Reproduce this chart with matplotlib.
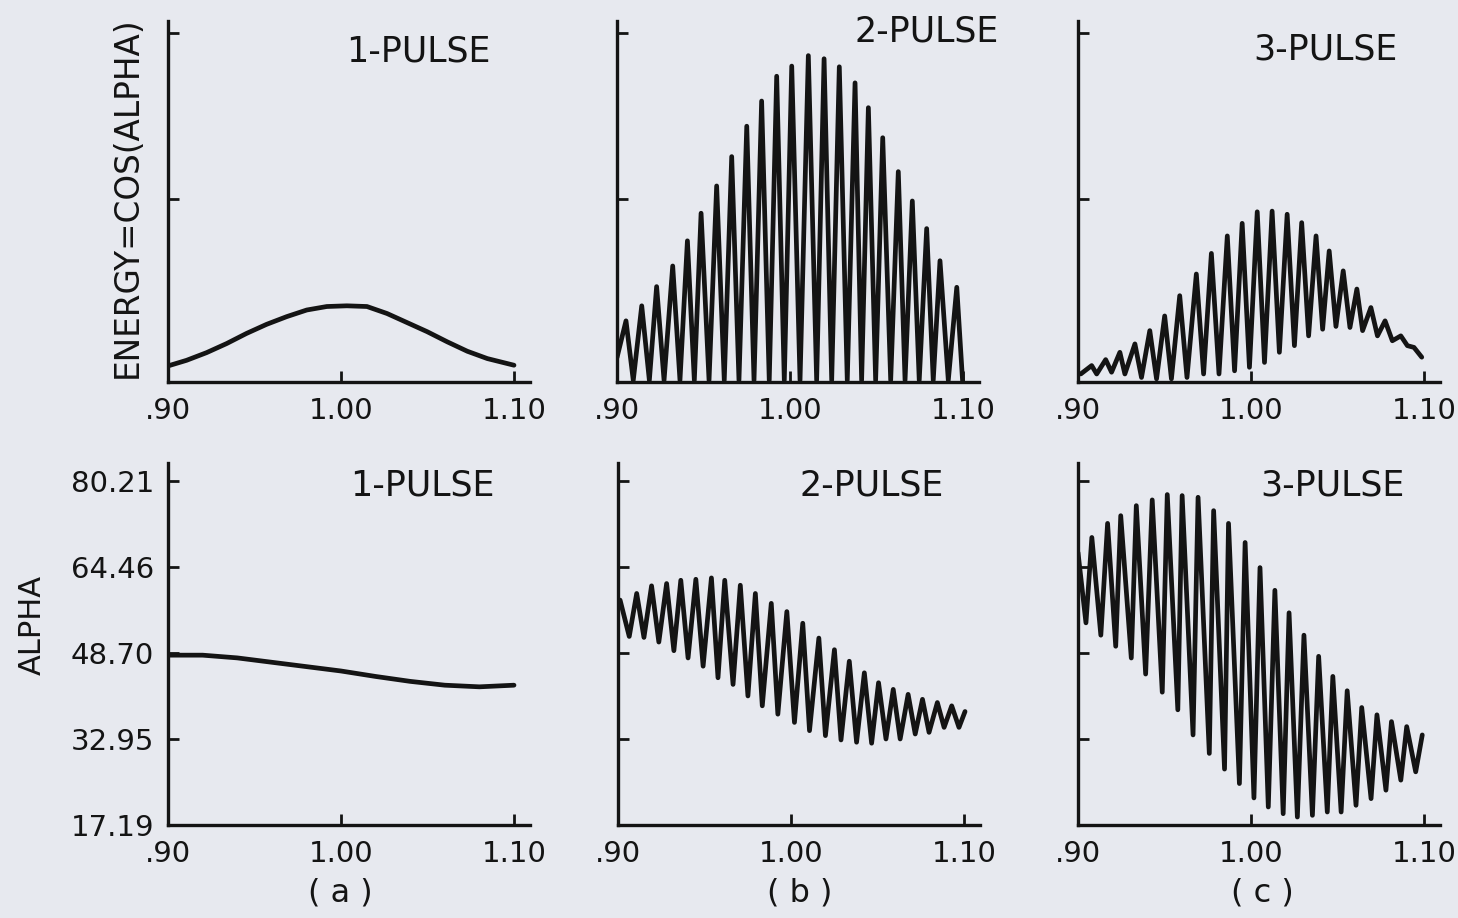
import matplotlib
matplotlib.use("Agg")
import matplotlib.pyplot as plt

W, H = 1458, 918
BG = "#e7e9ef"
INK = "#141414"

plt.rcParams["font.family"] = ["DejaVu Sans"]

# ---- data ----
# top row: ENERGY = COS(ALPHA)
x_a_top = [0.900, 0.9107, 0.9223, 0.9339, 0.9454, 0.9570, 0.9686, 0.9802, 0.9918,
           1.0034, 1.0150, 1.0266, 1.0382, 1.0498, 1.0614, 1.0730, 1.0846, 1.100]
e_a_top = [0.046, 0.062, 0.084, 0.110, 0.139, 0.165, 0.187, 0.206, 0.216,
           0.218, 0.216, 0.196, 0.170, 0.144, 0.115, 0.088, 0.067, 0.048]

x_b_top = [0.900, 0.9052, 0.9094, 0.9143, 0.9187, 0.9229, 0.9272, 0.9322, 0.9364,
           0.9407, 0.9447, 0.9486, 0.9532, 0.9576, 0.9620, 0.9663, 0.9705, 0.9750,
           0.9792, 0.9836, 0.9880, 0.9923, 0.9967, 1.0010, 1.0058, 1.0106, 1.0154,
           1.0197, 1.0241, 1.0285, 1.0331, 1.0376, 1.0414, 1.0453, 1.0495, 1.0536,
           1.0582, 1.0626, 1.0665, 1.0707, 1.0747, 1.0790, 1.0828, 1.0867, 1.0915,
           1.0964, 1.0998]
e_b_top = [0.07, 0.175, 0.005, 0.218, 0.005, 0.273, 0.005, 0.332, 0.005,
           0.404, 0.005, 0.483, 0.005, 0.561, 0.005, 0.645, 0.005, 0.732,
           0.005, 0.804, 0.005, 0.875, 0.005, 0.904, 0.005, 0.934, 0.005,
           0.925, 0.005, 0.902, 0.005, 0.856, 0.005, 0.785, 0.005, 0.699,
           0.005, 0.602, 0.005, 0.518, 0.005, 0.439, 0.005, 0.347, 0.005,
           0.271, 0.0]

x_c_top = [0.9016, 0.9079, 0.9108, 0.9160, 0.9194, 0.9242, 0.9271, 0.9329, 0.9367,
           0.9415, 0.9454, 0.9501, 0.9540, 0.9588, 0.9630, 0.9684, 0.9726, 0.9771,
           0.9815, 0.9863, 0.9905, 0.9949, 0.9991, 1.0036, 1.0078, 1.0122, 1.0164,
           1.0209, 1.0251, 1.0293, 1.0333, 1.0376, 1.0414, 1.0452, 1.0491, 1.0533,
           1.0572, 1.0612, 1.0645, 1.0693, 1.0731, 1.0775, 1.0817, 1.0866, 1.0904,
           1.0942, 1.0987]
e_c_top = [0.023, 0.047, 0.023, 0.064, 0.028, 0.085, 0.023, 0.109, 0.013,
           0.147, 0.009, 0.189, 0.009, 0.247, 0.013, 0.309, 0.023, 0.368,
           0.023, 0.418, 0.032, 0.454, 0.042, 0.487, 0.056, 0.489, 0.085,
           0.480, 0.104, 0.456, 0.132, 0.418, 0.151, 0.375, 0.159, 0.318,
           0.156, 0.266, 0.147, 0.213, 0.132, 0.175, 0.118, 0.132, 0.104,
           0.099, 0.071]

# bottom row: ALPHA
x_a_bot = [0.900, 0.920, 0.940, 0.960, 0.980, 1.000, 1.020, 1.040, 1.060, 1.080, 1.100]
al_a_bot = [48.3, 48.3, 47.8, 47.0, 46.2, 45.4, 44.4, 43.5, 42.8, 42.5, 42.8]

x_b_bot = [0.9012, 0.9065, 0.9108, 0.9150, 0.9194, 0.9236, 0.9281, 0.9323, 0.9363,
           0.9405, 0.9450, 0.9492, 0.9540, 0.9578, 0.9617, 0.9665, 0.9707, 0.9751,
           0.9794, 0.9834, 0.9886, 0.9924, 0.9976, 1.0020, 1.0068, 1.0107, 1.0161,
           1.0199, 1.0251, 1.0289, 1.0337, 1.0379, 1.0424, 1.0466, 1.0506, 1.0549,
           1.0591, 1.0631, 1.0677, 1.0718, 1.0760, 1.0798, 1.0846, 1.0885, 1.0929,
           1.0971, 1.1006]
al_b_bot = [58.39, 51.73, 59.60, 51.55, 61.00, 50.70, 61.42, 49.12, 62.02,
            47.79, 62.20, 46.28, 62.45, 44.16, 62.02, 42.94, 61.11, 40.83,
            59.60, 39.02, 57.79, 37.49, 56.28, 35.98, 54.15, 34.47, 51.43,
            33.56, 49.30, 32.77, 47.19, 32.35, 45.07, 32.17, 43.25, 32.95,
            42.03, 32.95, 41.12, 33.86, 40.21, 34.16, 39.62, 35.07, 39.02,
            35.07, 37.98]

x_c_bot = [0.900, 0.9046, 0.9080, 0.9132, 0.9171, 0.9218, 0.9247, 0.9308, 0.9337,
           0.9391, 0.9429, 0.9487, 0.9516, 0.9577, 0.9602, 0.9665, 0.9694, 0.9759,
           0.9784, 0.9847, 0.9870, 0.9933, 0.9966, 1.0017, 1.0052, 1.0100, 1.0138,
           1.0186, 1.0220, 1.0268, 1.0306, 1.0355, 1.0391, 1.0441, 1.0473, 1.0521,
           1.0556, 1.0607, 1.0640, 1.0694, 1.0728, 1.0780, 1.0812, 1.0866, 1.0900,
           1.0952, 1.0990]
al_c_bot = [67.10, 54.22, 69.86, 51.96, 72.44, 49.93, 73.85, 47.78, 75.69,
            44.84, 76.74, 41.52, 77.72, 38.29, 77.53, 33.69, 77.22, 30.30,
            74.77, 27.43, 72.44, 24.78, 68.94, 22.15, 64.34, 20.49, 60.18,
            19.26, 56.06, 18.65, 51.96, 18.96, 48.09, 19.57, 44.41, 19.57,
            41.78, 20.80, 38.71, 22.02, 37.37, 23.57, 36.13, 25.41, 35.21,
            26.93, 33.69]

x_ticks = [0.90, 1.00, 1.10]
x_ticklabels = [".90", "1.00", "1.10"]
energy_ticks = [0.525, 1.0]
alpha_ticks = [17.19, 32.95, 48.70, 64.46, 80.21]
alpha_ticklabels = ["17.19", "32.95", "48.70", "64.46", "80.21"]
pulse_names = ["1-PULSE", "2-PULSE", "3-PULSE"]
panel_tags = ["( a )", "( b )", "( c )"]

XLIM = (0.9, 1.109)
ELIM = (0.0, 1.033)
ALIM = (17.19, 83.5)


def px_axes(fig, left, bottom, right, top):
    return fig.add_axes([left / W, 1 - bottom / H, (right - left) / W, (bottom - top) / H])


def style(ax, ylim, yticks):
    ax.set_facecolor("none")
    ax.set_xlim(*XLIM)
    ax.set_ylim(*ylim)
    for s in ("top", "right"):
        ax.spines[s].set_visible(False)
    for s in ("left", "bottom"):
        ax.spines[s].set_linewidth(2.4)
        ax.spines[s].set_color(INK)
    ax.set_xticks(x_ticks)
    ax.set_xticklabels(x_ticklabels)
    ax.set_yticks(yticks)
    ax.tick_params(direction="in", length=8, width=2, colors=INK,
                   labelsize=21, pad=10)
    ax.tick_params(axis="x", labelsize=21, pad=11)


fig = plt.figure(figsize=(W / 100, H / 100), dpi=100, facecolor=BG)

top_left = [168, 617, 1078]
bot_left = [168, 618, 1078]
span = (XLIM[1] - XLIM[0]) * 1730

top_data = [(x_a_top, e_a_top), (x_b_top, e_b_top), (x_c_top, e_c_top)]
bot_data = [(x_a_bot, al_a_bot), (x_b_bot, al_b_bot), (x_c_bot, al_c_bot)]

for i in range(3):
    ax = px_axes(fig, top_left[i], 382, top_left[i] + span, 21)
    style(ax, ELIM, energy_ticks)
    ax.set_yticklabels([])
    x, y = top_data[i]
    ax.plot(x, y, color=INK, lw=3.4, solid_joinstyle="round",
            solid_capstyle="round")

    ax = px_axes(fig, bot_left[i], 825, bot_left[i] + span, 463)
    style(ax, ALIM, alpha_ticks)
    if i == 0:
        ax.set_yticklabels(alpha_ticklabels)
    else:
        ax.set_yticklabels([])
    x, y = bot_data[i]
    ax.plot(x, y, color=INK, lw=3.4, solid_joinstyle="round",
            solid_capstyle="round")

# panel titles
title_pos = [(418, 52), (927, 32), (1325, 50), (422, 485), (872, 485), (1332, 485)]
for k, (px, py) in enumerate(title_pos):
    fig.text(px / W, 1 - py / H, pulse_names[k % 3], fontsize=25, color=INK,
             ha="center", va="center")

for k, px in enumerate([340, 800, 1262]):
    fig.text(px / W, 1 - 893 / H, panel_tags[k], fontsize=23, color=INK,
             ha="center", va="center")

fig.text(127 / W, 1 - 197 / H, "ENERGY=COS(ALPHA)", rotation=90, fontsize=23.5,
         color=INK, ha="center", va="center")
fig.text(32 / W, 1 - 625 / H, "ALPHA", rotation=90, fontsize=22,
         color=INK, ha="center", va="center")

fig.savefig("out.png", dpi=100, facecolor=BG)
